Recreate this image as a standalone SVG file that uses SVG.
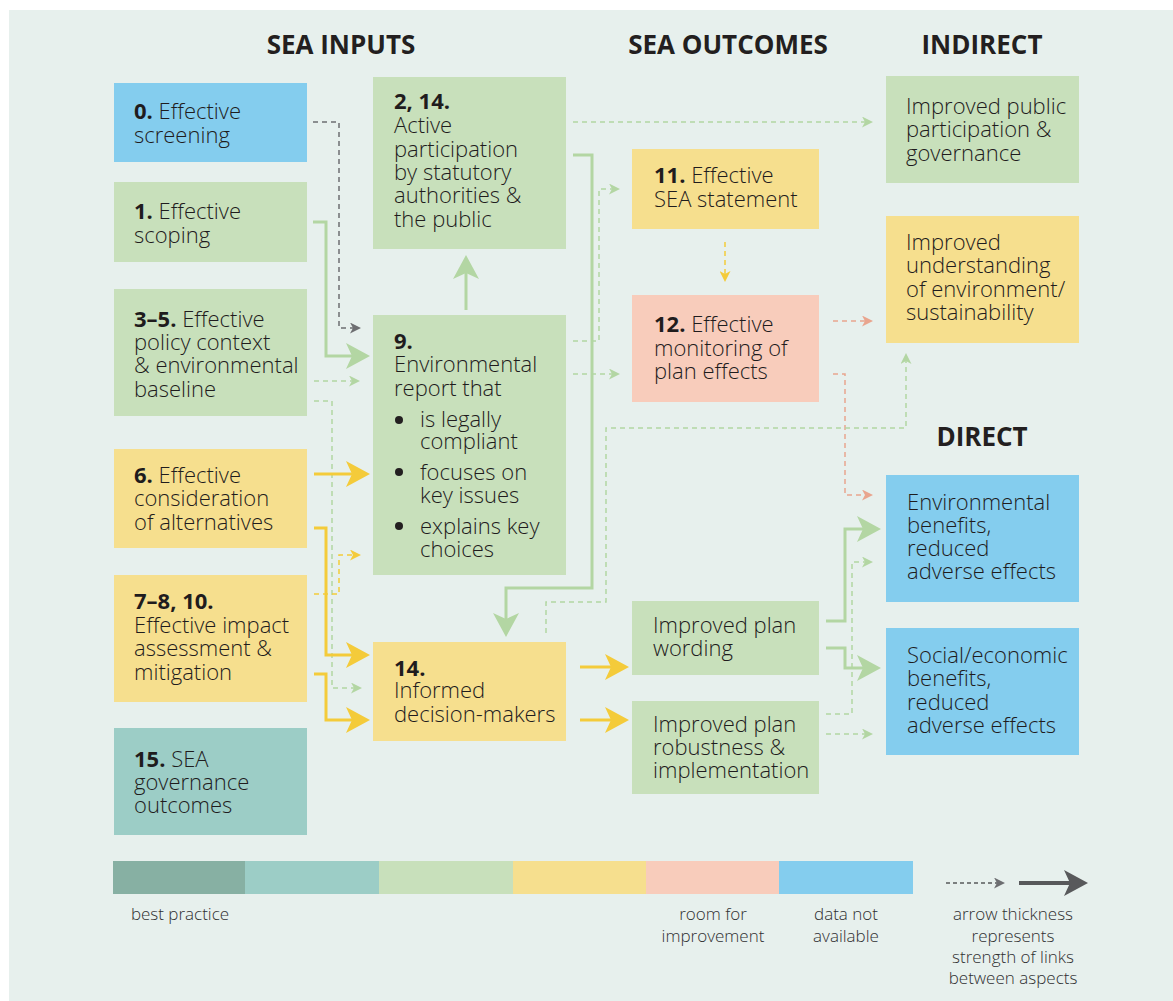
<svg xmlns="http://www.w3.org/2000/svg" width="1173" height="1001" viewBox="0 0 1173 1001">
  <style>
    .t{font-family:"Open Sans","Noto Sans",sans-serif;font-size:22px;font-weight:300;fill:#1f1c1d}
    .b{font-weight:bold}
    .h{font-family:"Open Sans","Noto Sans",sans-serif;font-size:26px;font-weight:bold;fill:#231f20;text-anchor:middle}
    .lg{font-family:"Open Sans","Noto Sans",sans-serif;font-size:17px;font-weight:300;fill:#2f2f31;text-anchor:middle}
    .blue{fill:#84cdee}.green{fill:#c8e0bb}.yellow{fill:#f6df8e}.pink{fill:#f8ccbb}.teal{fill:#9ccdc6}.dteal{fill:#87b0a3}
    .sg{fill:none;stroke:#b3d6a3;stroke-width:3;marker-end:url(#bigG)}
    .sy{fill:none;stroke:#f4cb3a;stroke-width:3;marker-end:url(#bigY)}
    .dg{fill:none;stroke:#b3d6a3;stroke-width:1.5;stroke-dasharray:5 4;marker-end:url(#smG)}
    .dy{fill:none;stroke:#f4cb3a;stroke-width:1.5;stroke-dasharray:5 4;marker-end:url(#smY)}
    .dp{fill:none;stroke:#e9a58e;stroke-width:1.5;stroke-dasharray:5 4;marker-end:url(#smP)}
    .dk{fill:none;stroke:#6d6e71;stroke-width:1.5;stroke-dasharray:5 4;marker-end:url(#smK)}
  </style>
  <defs>
    <marker id="bigG" viewBox="0 0 24 26" refX="18" refY="13" markerWidth="24" markerHeight="26" markerUnits="userSpaceOnUse" orient="auto"><path d="M0,0 L24,13 L0,26 L6,13 Z" fill="#b3d6a3"/></marker>
    <marker id="bigY" viewBox="0 0 24 26" refX="18" refY="13" markerWidth="24" markerHeight="26" markerUnits="userSpaceOnUse" orient="auto"><path d="M0,0 L24,13 L0,26 L6,13 Z" fill="#f4cb3a"/></marker>
    <marker id="bigK" viewBox="0 0 24 26" refX="18" refY="13" markerWidth="24" markerHeight="26" markerUnits="userSpaceOnUse" orient="auto"><path d="M0,0 L24,13 L0,26 L6,13 Z" fill="#58595b"/></marker>
    <marker id="smG" viewBox="0 0 11 11" refX="8" refY="5.5" markerWidth="11" markerHeight="11" markerUnits="userSpaceOnUse" orient="auto"><path d="M0,0 L11,5.5 L0,11 L3,5.5 Z" fill="#b3d6a3"/></marker>
    <marker id="smY" viewBox="0 0 11 11" refX="8" refY="5.5" markerWidth="11" markerHeight="11" markerUnits="userSpaceOnUse" orient="auto"><path d="M0,0 L11,5.5 L0,11 L3,5.5 Z" fill="#f4cb3a"/></marker>
    <marker id="smP" viewBox="0 0 11 11" refX="8" refY="5.5" markerWidth="11" markerHeight="11" markerUnits="userSpaceOnUse" orient="auto"><path d="M0,0 L11,5.5 L0,11 L3,5.5 Z" fill="#e9a58e"/></marker>
    <marker id="smK" viewBox="0 0 11 11" refX="8" refY="5.5" markerWidth="11" markerHeight="11" markerUnits="userSpaceOnUse" orient="auto"><path d="M0,0 L11,5.5 L0,11 L3,5.5 Z" fill="#6d6e71"/></marker>
  </defs>

  <!-- panel -->
  <rect x="0" y="0" width="1173" height="1001" fill="#ffffff"/>
  <rect x="9" y="10" width="1164" height="991" fill="#e7f0ed"/>

  <!-- column headings -->
  <text class="h" x="341" y="54">SEA INPUTS</text>
  <text class="h" x="728" y="54">SEA OUTCOMES</text>
  <text class="h" x="982" y="54">INDIRECT</text>
  <text class="h" x="982" y="446">DIRECT</text>

  <!-- connectors -->
  <g id="connectors">
    <path class="dk" d="M313,122 H339 V328 H358"/>
    <path class="sg" d="M313,222 H326 V356 H364"/>
    <path class="dg" d="M314,381 H357"/>
    <path class="dg" d="M314,401 H332 V688 H359"/>
    <path class="sy" d="M314,474 H364"/>
    <path class="sy" d="M314,528 H326 V655 H364"/>
    <path class="dy" d="M314,594 H339 V555 H358"/>
    <path class="sy" d="M314,674 H326 V720 H364"/>
    <path class="sg" d="M466,310 V261"/>
    <path class="dg" d="M573,122 H870"/>
    <path class="sg" d="M573,155 H592 V588 H506 V631"/>
    <path class="dg" d="M573,341 H599 V189 H617"/>
    <path class="dg" d="M573,374 H617"/>
    <path class="dy" d="M725,242 V279"/>
    <path class="dp" d="M833,321 H870"/>
    <path class="dp" d="M833,374 H845 V495 H870"/>
    <path class="dg" d="M546,633 V602 H606 V428 H906 V356"/>
    <path class="sg" d="M826,621 H845 V529 H875"/>
    <path class="sg" d="M826,648 H845 V668 H875"/>
    <path class="dg" d="M826,714 H852 V562 H870"/>
    <path class="dg" d="M826,734 H870"/>
    <path class="sy" d="M580,667 H623"/>
    <path class="sy" d="M580,720 H623"/>
  </g>

  <!-- inputs -->
  <g id="n0">
    <rect class="blue" x="114" y="83" width="193" height="79"/>
    <text class="t" x="134" y="119"><tspan class="b">0.</tspan> Effective<tspan x="134" y="143">screening</tspan></text>
  </g>
  <g id="n1">
    <rect class="green" x="114" y="182" width="193" height="80"/>
    <text class="t" x="134" y="219"><tspan class="b">1.</tspan> Effective<tspan x="134" y="243">scoping</tspan></text>
  </g>
  <g id="n3-5">
    <rect class="green" x="114" y="289" width="193" height="127"/>
    <text class="t" x="134" y="327"><tspan class="b">3–5.</tspan> Effective<tspan x="134" y="350">policy context</tspan><tspan x="134" y="373">&amp; environmental</tspan><tspan x="134" y="397">baseline</tspan></text>
  </g>
  <g id="n6">
    <rect class="yellow" x="114" y="449" width="193" height="99"/>
    <text class="t" x="134" y="483"><tspan class="b">6.</tspan> Effective<tspan x="134" y="506">consideration</tspan><tspan x="134" y="530">of alternatives</tspan></text>
  </g>
  <g id="n7-8-10">
    <rect class="yellow" x="114" y="575" width="193" height="127"/>
    <text class="t" x="134" y="609"><tspan class="b">7–8, 10.</tspan><tspan x="134" y="633">Effective impact</tspan><tspan x="134" y="656">assessment &amp;</tspan><tspan x="134" y="680">mitigation</tspan></text>
  </g>
  <g id="n15">
    <rect class="teal" x="114" y="728" width="193" height="107"/>
    <text class="t" x="134" y="767"><tspan class="b">15.</tspan> SEA<tspan x="134" y="790">governance</tspan><tspan x="134" y="813">outcomes</tspan></text>
  </g>

  <!-- middle column -->
  <g id="n2-14">
    <rect class="green" x="373" y="77" width="193" height="172"/>
    <text class="t" x="394" y="109"><tspan class="b">2, 14.</tspan><tspan x="394" y="133">Active</tspan><tspan x="394" y="157">participation</tspan><tspan x="394" y="180">by statutory</tspan><tspan x="394" y="203">authorities &amp;</tspan><tspan x="394" y="227">the public</tspan></text>
  </g>
  <g id="n9">
    <rect class="green" x="373" y="315" width="193" height="260"/>
    <text class="t" x="394" y="349"><tspan class="b">9.</tspan><tspan x="394" y="372">Environmental</tspan><tspan x="394" y="396">report that</tspan><tspan x="420" y="427">is legally</tspan><tspan x="420" y="449">compliant</tspan><tspan x="420" y="480">focuses on</tspan><tspan x="420" y="503">key issues</tspan><tspan x="420" y="534">explains key</tspan><tspan x="420" y="557">choices</tspan></text>
    <circle cx="399" cy="420" r="4" fill="#231f20"/>
    <circle cx="399" cy="472" r="4" fill="#231f20"/>
    <circle cx="399" cy="526" r="4" fill="#231f20"/>
  </g>
  <g id="n14">
    <rect class="yellow" x="373" y="642" width="193" height="99"/>
    <text class="t" x="394" y="676"><tspan class="b">14.</tspan><tspan x="394" y="698">Informed</tspan><tspan x="394" y="722">decision-makers</tspan></text>
  </g>

  <!-- outcomes -->
  <g id="n11">
    <rect class="yellow" x="632" y="149" width="187" height="80"/>
    <text class="t" x="654" y="183"><tspan class="b">11.</tspan> Effective<tspan x="654" y="207">SEA statement</tspan></text>
  </g>
  <g id="n12">
    <rect class="pink" x="632" y="295" width="187" height="107"/>
    <text class="t" x="654" y="332"><tspan class="b">12.</tspan> Effective<tspan x="654" y="356">monitoring of</tspan><tspan x="654" y="379">plan effects</tspan></text>
  </g>
  <g id="n-wording">
    <rect class="green" x="632" y="601" width="187" height="74"/>
    <text class="t" x="653" y="633">Improved plan<tspan x="653" y="656">wording</tspan></text>
  </g>
  <g id="n-robustness">
    <rect class="green" x="632" y="701" width="187" height="93"/>
    <text class="t" x="653" y="732">Improved plan<tspan x="653" y="755">robustness &amp;</tspan><tspan x="653" y="778">implementation</tspan></text>
  </g>

  <!-- indirect / direct -->
  <g id="n-participation">
    <rect class="green" x="886" y="76" width="193" height="107"/>
    <text class="t" x="906" y="114">Improved public<tspan x="906" y="137">participation &amp;</tspan><tspan x="906" y="161">governance</tspan></text>
  </g>
  <g id="n-understanding">
    <rect class="yellow" x="886" y="216" width="193" height="127"/>
    <text class="t" x="906" y="250">Improved<tspan x="906" y="273">understanding</tspan><tspan x="906" y="297">of environment/</tspan><tspan x="906" y="320">sustainability</tspan></text>
  </g>
  <g id="n-env">
    <rect class="blue" x="886" y="475" width="193" height="127"/>
    <text class="t" x="907" y="510">Environmental<tspan x="907" y="533">benefits,</tspan><tspan x="907" y="556">reduced</tspan><tspan x="907" y="579">adverse effects</tspan></text>
  </g>
  <g id="n-social">
    <rect class="blue" x="886" y="628" width="193" height="127"/>
    <text class="t" x="907" y="663">Social/economic<tspan x="907" y="686">benefits,</tspan><tspan x="907" y="710">reduced</tspan><tspan x="907" y="733">adverse effects</tspan></text>
  </g>

  <!-- legend -->
  <g id="legend">
    <rect class="dteal" x="113" y="861" width="133" height="33"/>
    <rect class="teal" x="245" y="861" width="135" height="33"/>
    <rect class="green" x="379" y="861" width="135" height="33"/>
    <rect class="yellow" x="513" y="861" width="134" height="33"/>
    <rect class="pink" x="646" y="861" width="134" height="33"/>
    <rect class="blue" x="779" y="861" width="134" height="33"/>
    <path d="M946,883 H1002" fill="none" stroke="#58595b" stroke-width="1.5" stroke-dasharray="4 3" marker-end="url(#smK)"/>
    <path d="M1019,883 H1082" fill="none" stroke="#58595b" stroke-width="4" marker-end="url(#bigK)"/>
    <text class="lg" x="180" y="920">best practice</text>
    <text class="lg" x="713" y="920">room for<tspan x="713" y="942">improvement</tspan></text>
    <text class="lg" x="846" y="920">data not<tspan x="846" y="942">available</tspan></text>
    <text class="lg" x="1013" y="920">arrow thickness<tspan x="1013" y="942">represents</tspan><tspan x="1013" y="963">strength of links</tspan><tspan x="1013" y="984">between aspects</tspan></text>
  </g>
</svg>
